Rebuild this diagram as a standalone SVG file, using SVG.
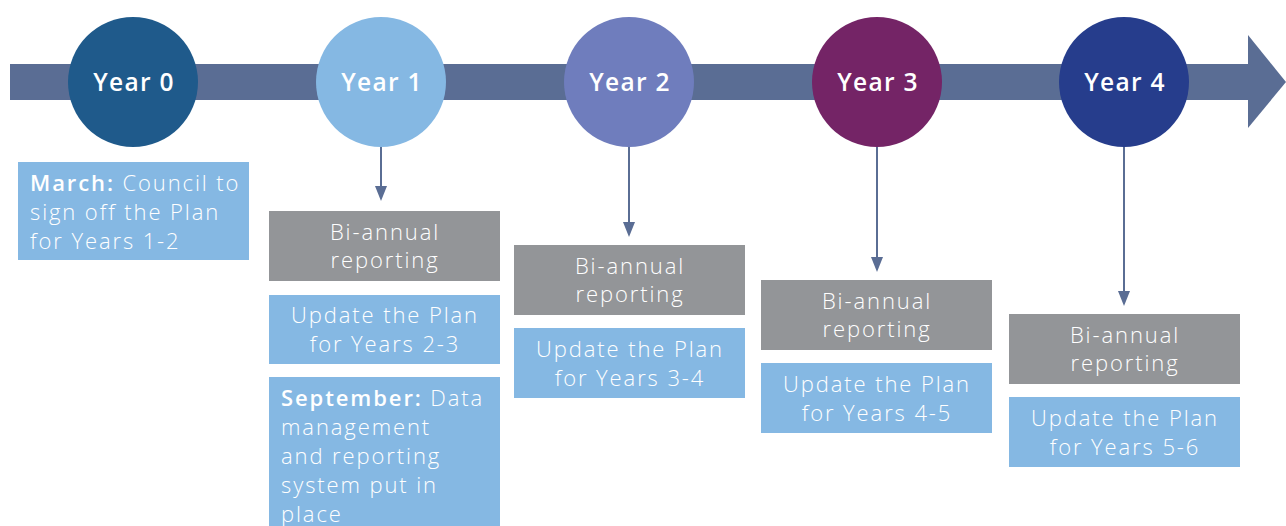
<svg xmlns="http://www.w3.org/2000/svg" width="1286" height="526" viewBox="0 0 1286 526">
<style>
.t{font-family:"Open Sans","Liberation Sans",sans-serif;font-size:22px;fill:#fff;font-weight:300;letter-spacing:1.9px}
.b{font-weight:600}
.yr{font-family:"Open Sans","Liberation Sans",sans-serif;font-size:24.5px;fill:#fff;font-weight:600;text-anchor:middle;letter-spacing:1.3px}
.c{text-anchor:middle}
.gray{fill:#939598}
.blue{fill:#85b8e3}
.conn{stroke:#5a6d94;stroke-width:2;fill:none}
.head{fill:#5a6d94}
</style>
<g id="timeline">
<rect x="10" y="64" width="1240" height="36" fill="#5a6d94"/>
<polygon points="1248,35 1286,82 1248,128" fill="#5a6d94"/>
</g>
<g id="connectors">
<line class="conn" x1="381" y1="147" x2="381" y2="188"/>
<polygon class="head" points="375,186 387,186 381,201"/>
<line class="conn" x1="629" y1="147" x2="629" y2="224"/>
<polygon class="head" points="623,222 635,222 629,237"/>
<line class="conn" x1="877" y1="147" x2="877" y2="259"/>
<polygon class="head" points="871,257 883,257 877,272"/>
<line class="conn" x1="1124" y1="147" x2="1124" y2="293"/>
<polygon class="head" points="1118,291 1130,291 1124,306"/>
</g>
<g id="year0"><circle cx="133" cy="82" r="65" fill="#1f5a8b"/><text class="yr" x="134" y="91">Year 0</text></g>
<g id="year1"><circle cx="381" cy="82" r="65" fill="#85b8e3"/><text class="yr" x="382" y="91">Year 1</text></g>
<g id="year2"><circle cx="629" cy="82" r="65" fill="#6f7dbd"/><text class="yr" x="630" y="91">Year 2</text></g>
<g id="year3"><circle cx="877" cy="82" r="65" fill="#742466"/><text class="yr" x="878" y="91">Year 3</text></g>
<g id="year4"><circle cx="1124" cy="82" r="65" fill="#263d8c"/><text class="yr" x="1125" y="91">Year 4</text></g>
<g id="march">
<rect class="blue" x="18" y="162" width="231" height="98"/>
<text class="t" x="30" y="191"><tspan class="b">March:</tspan> Council to</text>
<text class="t" x="30" y="220">sign off the Plan</text>
<text class="t" x="30" y="249">for Years 1-2</text>
</g>
<g id="report1">
<rect class="gray" x="269" y="211" width="231" height="70"/>
<text class="t c" x="385" y="240">Bi-annual</text>
<text class="t c" x="385" y="268">reporting</text>
</g>
<g id="update1">
<rect class="blue" x="269" y="295" width="231" height="69"/>
<text class="t c" x="385" y="323">Update the Plan</text>
<text class="t c" x="385" y="352">for Years 2-3</text>
</g>
<g id="september">
<rect class="blue" x="269" y="377" width="231" height="149"/>
<text class="t" x="281" y="406"><tspan class="b">September:</tspan> Data</text>
<text class="t" x="281" y="435">management</text>
<text class="t" x="281" y="464">and reporting</text>
<text class="t" x="281" y="493">system put in</text>
<text class="t" x="281" y="522">place</text>
</g>
<g id="report2">
<rect class="gray" x="514" y="245" width="231" height="70"/>
<text class="t c" x="630" y="274">Bi-annual</text>
<text class="t c" x="630" y="302">reporting</text>
</g>
<g id="update2">
<rect class="blue" x="514" y="328" width="231" height="70"/>
<text class="t c" x="630" y="357">Update the Plan</text>
<text class="t c" x="630" y="386">for Years 3-4</text>
</g>
<g id="report3">
<rect class="gray" x="761" y="280" width="231" height="70"/>
<text class="t c" x="877" y="309">Bi-annual</text>
<text class="t c" x="877" y="337">reporting</text>
</g>
<g id="update3">
<rect class="blue" x="761" y="363" width="231" height="70"/>
<text class="t c" x="877" y="392">Update the Plan</text>
<text class="t c" x="877" y="421">for Years 4-5</text>
</g>
<g id="report4">
<rect class="gray" x="1009" y="314" width="231" height="70"/>
<text class="t c" x="1125" y="343">Bi-annual</text>
<text class="t c" x="1125" y="371">reporting</text>
</g>
<g id="update4">
<rect class="blue" x="1009" y="397" width="231" height="70"/>
<text class="t c" x="1125" y="426">Update the Plan</text>
<text class="t c" x="1125" y="455">for Years 5-6</text>
</g>
</svg>
